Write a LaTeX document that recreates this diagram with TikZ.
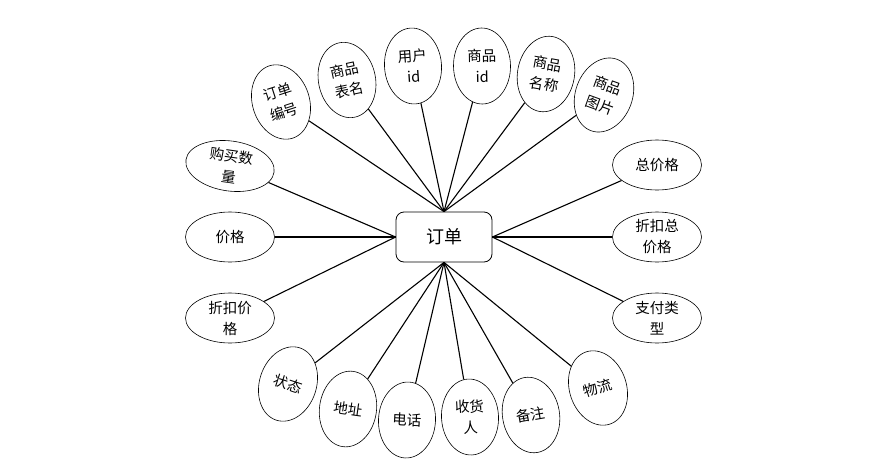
\documentclass[tikz,border=0pt]{standalone}
\usepackage{fontspec}
\newfontfamily\cjk{Noto Sans CJK SC}
\usetikzlibrary{shapes.geometric}
\tikzset{
  attr/.style={ellipse, draw, line width=0.6pt, inner sep=0pt, align=center,
    font=\cjk\fontsize{14.5}{21}\selectfont},
  tallattr/.style={attr, minimum width=57pt, minimum height=76pt},
  wideattr/.style={attr, minimum width=89pt, minimum height=50pt},
  entitybox/.style={rectangle, draw, line width=0.8pt, rounded corners=8pt,
    minimum width=96pt, minimum height=50pt, font=\cjk\fontsize{18}{22}\selectfont},
  link/.style={line width=1.1pt}
}
\begin{document}
\begin{tikzpicture}[x=1pt,y=-1pt]
\useasboundingbox (0,0) rectangle (891,466);
\node[entitybox] (order) at (444,237) {订单};
% top
\node[tallattr, rotate=18] (o1) at (281,102) {订单\\编号};
\node[tallattr, rotate=12] (o2) at (347,80) {商品\\表名};
\node[tallattr, rotate=4] (o3) at (413,66) {用户\\id};
\node[tallattr, rotate=1] (o4) at (482,66) {商品\\id};
\node[tallattr, rotate=-10] (o5) at (546,74) {商品\\名称};
\node[tallattr, rotate=-20] (o6) at (604,95) {商品\\图片};
% left
\node[wideattr, rotate=-8] (l1) at (230,166) {购买数\\量};
\node[wideattr] (l2) at (230,237) {价格};
\node[wideattr] (l3) at (230,318) {折扣价\\格};
% right
\node[wideattr] (r1) at (657,165) {总价格};
\node[wideattr] (r2) at (657,237) {折扣总\\价格};
\node[wideattr] (r3) at (657,318) {支付类\\型};
% bottom
\node[tallattr, rotate=-18] (b1) at (288,384) {状态};
\node[tallattr, rotate=-8] (b2) at (348,409) {地址};
\node[tallattr, rotate=-3] (b3) at (407,420) {电话};
\node[tallattr, rotate=3] (b4) at (470,417) {收货\\人};
\node[tallattr, rotate=10] (b5) at (531,415) {备注};
\node[tallattr, rotate=18] (b6) at (598,388) {物流};
% links
\foreach \n in {o1,o2,o3,o4,o5,o6} \draw[link] (\n) -- (order.north);
\foreach \n in {l1,l2,l3} \draw[link] (\n) -- (order.west);
\foreach \n in {r1,r2,r3} \draw[link] (\n) -- (order.east);
\foreach \n in {b1,b2,b3,b4,b5,b6} \draw[link] (\n) -- (order.south);
\end{tikzpicture}
\end{document}
